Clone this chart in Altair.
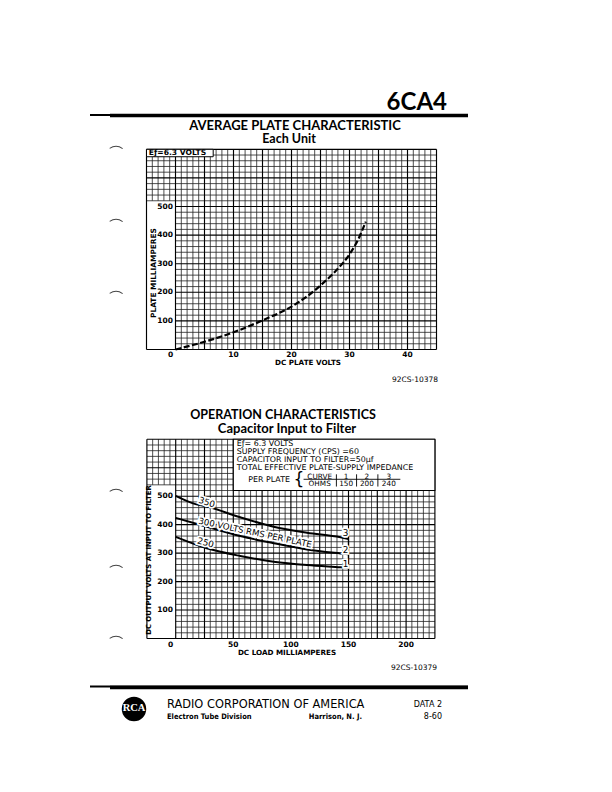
import altair as alt
import pandas as pd

# ---------------- data: average plate characteristic ----------------
plate_volts = [0, 5, 10, 15, 20, 22.5, 25, 27.5, 30, 31.5, 32.8]
plate_ma = [0, 27, 60, 102, 150, 183, 224, 272, 333, 385, 447]
top_x_ticks = [0, 10, 20, 30, 40]
top_y_ticks = [100, 200, 300, 400, 500]

# ---------------- data: operation characteristics ----------------
c1_ma = [0, 27, 56, 85, 114, 143, 150]
c1_v = [357, 317, 290, 270, 258, 250, 248]
c2_ma = [0, 27, 56, 85, 114, 143, 150]
c2_v = [424, 393, 360, 335, 313, 299, 296]
c3_ma = [0, 15, 27, 56, 85, 114, 143, 150]
c3_v = [501, 475, 464, 426, 393, 372, 356, 350]
bot_x_ticks = [0, 50, 100, 150, 200]
bot_y_ticks = [100, 200, 300, 400, 500]
curve_names = ["1", "2", "3"]
curve_ohms = ["150", "200", "240"]

SANS = "DejaVu Sans"
COND = "DejaVu Sans Condensed"
TITLE = "Lato"

# scales (plot frames on the page)
TX = alt.Scale(domain=[-5, 45], range=[146.5, 436.5], nice=False, zero=False)
TY = alt.Scale(domain=[0, 700], range=[349.5, 149.3], nice=False, zero=False)
BX = alt.Scale(domain=[-25, 225], range=[146.9, 434.9], nice=False, zero=False)
BY = alt.Scale(domain=[0, 700], range=[638.5, 439.3], nice=False, zero=False)


def grid_frames(xmin, xmax, xstep, ymax, ystep, box_top, xmaj, ymaj):
    minor, major = [], []
    n = int(round((xmax - xmin) / xstep))
    for k in range(n + 1):
        x = xmin + k * xstep
        lo = box_top if (x < 0 and k != 0) else 0
        row = dict(x=x, x2=x, y=lo, y2=ymax)
        (major if (abs(x) % xmaj == 0 or k == 0 or k == n) else minor).append(row)
    m = int(round(ymax / ystep))
    for k in range(m + 1):
        y = k * ystep
        lo = 0 if (y < box_top and k != 0) else xmin
        row = dict(x=lo, x2=xmax, y=y, y2=y)
        (major if (y % ymaj == 0 or k == 0 or k == m) else minor).append(row)
    return pd.DataFrame(minor), pd.DataFrame(major)


def rules(df, xs, ys, width, color):
    return alt.Chart(df).mark_rule(strokeWidth=width, color=color).encode(
        x=alt.X("x:Q", scale=xs, axis=None), x2="x2:Q",
        y=alt.Y("y:Q", scale=ys, axis=None), y2="y2:Q")


def txt(s, x, y, size=8, weight="normal", align="center", font=SANS, angle=None,
        baseline="middle", color="black"):
    kw = dict(fontSize=size, fontWeight=weight, align=align, font=font,
              baseline=baseline, color=color)
    if angle is not None:
        kw["angle"] = angle
    return alt.Chart(pd.DataFrame({"t": [s]})).mark_text(**kw).encode(
        x=alt.value(x), y=alt.value(y), text="t:N")


def dtxt(s, xv, yv, xs, ys, size=8, weight="normal", align="center", font=SANS,
         angle=None, halo=False, dx=0):
    df = pd.DataFrame({"t": [s], "x": [xv], "y": [yv]})
    kw = dict(fontSize=size, fontWeight=weight, align=align, font=font,
              baseline="middle", dx=dx)
    if angle is not None:
        kw["angle"] = angle
    enc = dict(x=alt.X("x:Q", scale=xs, axis=None), y=alt.Y("y:Q", scale=ys, axis=None),
               text="t:N")
    layers = []
    if halo:
        layers.append(alt.Chart(df).mark_text(stroke="white", strokeWidth=3.5,
                                              fill="white", **kw).encode(**enc))
    layers.append(alt.Chart(df).mark_text(color="black", **kw).encode(**enc))
    return alt.layer(*layers)


# ================= top chart =================
tminor, tmajor = grid_frames(-5, 45, 1, 700, 20, 520, 5, 100)
top_layers = [
    rules(tminor, TX, TY, 0.8, "#222222"),
    rules(tmajor, TX, TY, 1.15, "#000000"),
]
ef_box = pd.DataFrame({"x": [-5], "x2": [6.5], "y": [674], "y2": [700]})
top_layers.append(alt.Chart(ef_box).mark_rect(fill="white", stroke="black", strokeWidth=1).encode(
    x=alt.X("x:Q", scale=TX, axis=None), x2="x2:Q",
    y=alt.Y("y:Q", scale=TY, axis=None), y2="y2:Q"))
top_layers.append(dtxt("E\u0192=6.3 VOLTS", -4.6, 687, TX, TY, size=7.6, weight="bold",
                       align="left", font=SANS))
plate = pd.DataFrame({"v": plate_volts, "i": plate_ma})
top_layers.append(alt.Chart(plate).mark_line(color="black", strokeWidth=2.2,
                                             strokeDash=[6, 2.5], interpolate="monotone").encode(
    x=alt.X("v:Q", scale=TX, axis=None), y=alt.Y("i:Q", scale=TY, axis=None)))
tx = pd.DataFrame({"v": top_x_ticks})
top_layers.append(alt.Chart(tx).transform_filter("datum.v > 0").mark_text(
    fontSize=7.5, fontWeight="bold", font=SANS, baseline="middle").encode(
    x=alt.X("v:Q", scale=TX, axis=None), y=alt.value(355), text="v:Q"))
top_layers.append(alt.Chart(tx).transform_filter("datum.v == 0").mark_text(
    fontSize=7.5, fontWeight="bold", font=SANS, baseline="middle", dx=-5).encode(
    x=alt.X("v:Q", scale=TX, axis=None), y=alt.value(355), text="v:Q"))
ty = pd.DataFrame({"v": top_y_ticks})
top_layers.append(alt.Chart(ty).mark_text(
    fontSize=7.5, fontWeight="bold", font=SANS, baseline="middle", align="right").encode(
    x=alt.value(173), y=alt.Y("v:Q", scale=TY, axis=None), text="v:Q"))
top = alt.layer(*top_layers)

# ================= bottom chart =================
bminor, bmajor = grid_frames(-25, 225, 5, 700, 20, 540, 25, 100)
bot_layers = [
    rules(bminor, BX, BY, 0.8, "#222222"),
    rules(bmajor, BX, BY, 1.15, "#000000"),
]
info_box = pd.DataFrame({"x": [50], "x2": [225], "y": [520], "y2": [700]})
bot_layers.append(alt.Chart(info_box).mark_rect(fill="white", stroke="black", strokeWidth=1.1).encode(
    x=alt.X("x:Q", scale=BX, axis=None), x2="x2:Q",
    y=alt.Y("y:Q", scale=BY, axis=None), y2="y2:Q"))
info_lines = [
    ("E\u0192= 6.3 VOLTS", 685),
    ("SUPPLY FREQUENCY (CPS) =60", 656),
    ("CAPACITOR INPUT TO FILTER=50\u03bcf", 627),
    ("TOTAL EFFECTIVE PLATE-SUPPLY IMPEDANCE", 598),
]
for s, yv in info_lines:
    bot_layers.append(dtxt(s, 53, yv, BX, BY, size=7.9, font=SANS, align="left"))
bot_layers.append(dtxt("PER PLATE", 63, 556, BX, BY, size=7.9, font=SANS, align="left"))
bot_layers.append(dtxt("{", 107, 556, BX, BY, size=17, font=SANS))
bot_layers.append(dtxt("CURVE", 125, 568, BX, BY, size=7.3, font=SANS))
bot_layers.append(dtxt("OHMS", 125, 543, BX, BY, size=7.3, font=SANS))
col_x = [148, 166, 185]
for cx, nm, oh in zip(col_x, curve_names, curve_ohms):
    bot_layers.append(dtxt(nm, cx, 568, BX, BY, size=7.3, font=SANS))
    bot_layers.append(dtxt(oh, cx, 543, BX, BY, size=7.3, font=SANS))
tbl_rule = pd.DataFrame({"x": [111], "x2": [195], "y": [559.5], "y2": [559.5]})
bot_layers.append(rules(tbl_rule, BX, BY, 0.9, "black"))
seps = pd.DataFrame({"x": [139.5, 157, 175.5], "x2": [139.5, 157, 175.5],
                     "y": [534, 534, 534], "y2": [577, 577, 577]})
bot_layers.append(rules(seps, BX, BY, 0.9, "black"))

curves = pd.concat([
    pd.DataFrame({"ma": c1_ma, "v": c1_v, "c": "1"}),
    pd.DataFrame({"ma": c2_ma, "v": c2_v, "c": "2"}),
    pd.DataFrame({"ma": c3_ma, "v": c3_v, "c": "3"}),
])
bot_layers.append(alt.Chart(curves).mark_line(color="black", strokeWidth=2,
                                              interpolate="monotone").encode(
    x=alt.X("ma:Q", scale=BX, axis=None), y=alt.Y("v:Q", scale=BY, axis=None), detail="c:N"))
endbar = pd.DataFrame({"x": [150], "x2": [150], "y": [240], "y2": [378]})
bot_layers.append(rules(endbar, BX, BY, 1.3, "black"))
bot_layers.append(dtxt("350", 27, 479, BX, BY, size=8.8, angle=17, halo=True))
bot_layers.append(dtxt("300 VOLTS RMS PER PLATE", 69, 372, BX, BY, size=8.6, angle=12, halo=True))
bot_layers.append(dtxt("250", 26, 337, BX, BY, size=8.8, angle=15, halo=True))
for nm, yv in zip(curve_names, [261, 311, 370]):
    bot_layers.append(dtxt(nm, 147.5, yv, BX, BY, size=8.8, halo=True))

bx = pd.DataFrame({"v": bot_x_ticks})
bot_layers.append(alt.Chart(bx).transform_filter("datum.v > 0").mark_text(
    fontSize=7.5, fontWeight="bold", font=SANS, baseline="middle").encode(
    x=alt.X("v:Q", scale=BX, axis=None), y=alt.value(644.5), text="v:Q"))
bot_layers.append(alt.Chart(bx).transform_filter("datum.v == 0").mark_text(
    fontSize=7.5, fontWeight="bold", font=SANS, baseline="middle", dx=-5).encode(
    x=alt.X("v:Q", scale=BX, axis=None), y=alt.value(644.5), text="v:Q"))
by = pd.DataFrame({"v": bot_y_ticks})
bot_layers.append(alt.Chart(by).mark_text(
    fontSize=7.5, fontWeight="bold", font=SANS, baseline="middle", align="right").encode(
    x=alt.value(173), y=alt.Y("v:Q", scale=BY, axis=None), text="v:Q"))
bottom = alt.layer(*bot_layers)

# ================= page furniture =================
page = [
    txt("6CA4", 447, 110, size=24, weight="bold", align="right", font=TITLE, baseline="alphabetic"),
    alt.Chart(pd.DataFrame({"a": [0]})).mark_rule(strokeWidth=1.8, color="black").encode(
        x=alt.value(90), x2=alt.value(468), y=alt.value(115)),
    alt.Chart(pd.DataFrame({"a": [0]})).mark_rule(strokeWidth=3.4, color="black").encode(
        x=alt.value(110), x2=alt.value(468), y=alt.value(115.5)),
    txt("AVERAGE PLATE CHARACTERISTIC", 295, 125.5, size=13, weight="bold", font=TITLE),
    txt("Each Unit", 289, 139, size=12.5, weight="bold", font=TITLE),
    txt("PLATE MILLIAMPERES", 154, 273, size=7.4, weight="bold", font=SANS, angle=270),
    txt("DC PLATE VOLTS", 308, 363, size=7.2, weight="bold", font=SANS),
    txt("92CS-10378", 438, 380, size=7.5, align="right", font=SANS),
    txt("OPERATION CHARACTERISTICS", 283, 414.5, size=12.5, weight="bold", font=TITLE),
    txt("Capacitor Input to Filter", 287, 428.5, size=13, weight="bold", font=TITLE),
    txt("DC OUTPUT VOLTS AT INPUT TO FILTER", 149, 560, size=6.9, weight="bold", font=SANS, angle=270),
    txt("DC LOAD MILLIAMPERES", 287, 652.5, size=7.2, weight="bold", font=SANS),
    txt("92CS-10379", 437, 668, size=7.5, align="right", font=SANS),
    alt.Chart(pd.DataFrame({"a": [0]})).mark_rule(strokeWidth=1.8, color="black").encode(
        x=alt.value(90), x2=alt.value(468), y=alt.value(686.5)),
    alt.Chart(pd.DataFrame({"a": [0]})).mark_rule(strokeWidth=3.4, color="black").encode(
        x=alt.value(110), x2=alt.value(468), y=alt.value(687.5)),
    alt.Chart(pd.DataFrame({"a": [0]})).mark_circle(size=600, color="black", opacity=1).encode(
        x=alt.value(134), y=alt.value(709)),
    txt("RCA", 134, 708, size=10.5, weight="bold", font="Liberation Serif", color="white"),
    txt("RADIO CORPORATION OF AMERICA", 167, 705, size=11.4, align="left", font=SANS),
    txt("Electron Tube Division", 167, 717, size=7.5, weight="bold", align="left", font=COND),
    txt("Harrison, N. J.", 362, 717, size=7.5, weight="bold", align="right", font=COND),
    txt("DATA 2", 442, 705, size=8, align="right", font=SANS),
    txt("8-60", 442, 717, size=8, align="right", font=SANS),
]
for my in [147, 220, 292, 490, 566, 637]:
    page.append(alt.Chart(pd.DataFrame({"a": [0]})).mark_arc(
        radius=12, radius2=11, theta=5.7, theta2=6.9, color="#444444").encode(
        x=alt.value(116), y=alt.value(my + 11)))

chart = alt.layer(top, bottom, *page).resolve_scale(
    x="independent", y="independent"
).properties(
    width=612, height=792, padding=0,
    autosize=alt.AutoSizeParams(type="none"),
    background="white",
).configure_view(stroke=None)

chart.save("out.html", embed_options={"renderer": "svg", "actions": False})
